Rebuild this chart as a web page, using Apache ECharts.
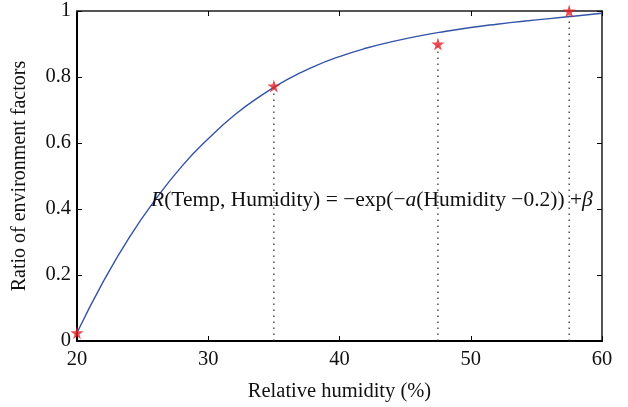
<!DOCTYPE html>
<html>
<head>
<meta charset="utf-8">
<style>html,body{margin:0;padding:0;background:#fff}#c{width:628px;height:407px}</style>
<script src="https://cdn.jsdelivr.net/npm/echarts@6/dist/echarts.min.js"></script>
</head>
<body>
<div id="c"></div>
<script>
// Fitted curve
var curveX = [20,22,24,26,28,30,32,34,36,38,40,42,44,46,48,50,52,54,56,58,60];
var curveY = [0.025,0.18,0.315,0.43,0.53,0.613,0.685,0.743,0.792,0.831,0.862,0.887,0.907,0.924,0.938,0.95,0.96,0.969,0.977,0.985,0.993];
// Measured points (red stars)
var pointX = [20,35,47.5,57.5];
var pointY = [0.025,0.773,0.90,1.0];
// Points with dotted drop lines
var dropIdx = [1,2,3];
var xTicks = [20,30,40,50,60];
var yTicks = [0,0.2,0.4,0.6,0.8,1];

var FONT = '"Liberation Serif","DejaVu Serif",serif';
var starPath = 'path://M50,0 L61,35 L98,35 L68,57 L79,91 L50,70 L21,91 L32,57 L2,35 L39,35 Z';

var series = [{
  type:'line', xAxisIndex:0, yAxisIndex:0, smooth:true, showSymbol:false,
  lineStyle:{color:'#3353a8', width:1.4},
  data: curveX.map(function(x,i){return [x,curveY[i]];}),
  z:3
}];
dropIdx.forEach(function(i){
  series.push({
    type:'line', xAxisIndex:0, yAxisIndex:0, showSymbol:false, silent:true,
    lineStyle:{color:'#222', width:1.2, type:[1.5,4.5]},
    data:[[pointX[i],0],[pointX[i],pointY[i]]], z:2
  });
});
series.push({
  type:'scatter', xAxisIndex:0, yAxisIndex:0, symbol:starPath, symbolSize:13, clip:false,
  itemStyle:{color:'#e41f26'},
  data: pointX.map(function(x,i){return [x,pointY[i]];}), z:5
});

var chart = echarts.init(document.getElementById('c'), null, {renderer:'canvas'});
chart.setOption({
  animation:false,
  backgroundColor:'#fff',
  grid:{left:77, right:26, top:11, bottom:65},
  xAxis:[{
    type:'value', min:20, max:60, interval:10, position:'bottom',
    name:'Relative humidity (%)', nameLocation:'middle', nameGap:40,
    nameTextStyle:{fontFamily:FONT, fontSize:20.5, color:'#111'},
    axisLine:{show:true, onZero:false, lineStyle:{color:'#000', width:2}},
    axisTick:{show:true, inside:true, length:5, lineStyle:{color:'#000', width:1}},
    axisLabel:{fontFamily:FONT, fontSize:20.5, color:'#111', margin:8},
    splitLine:{show:false}
  },{
    type:'value', min:20, max:60, interval:10, position:'top',
    axisLine:{show:true, onZero:false, lineStyle:{color:'#555', width:2}},
    axisTick:{show:true, inside:true, length:5, lineStyle:{color:'#000', width:1}},
    axisLabel:{show:false}, splitLine:{show:false}
  }],
  yAxis:[{
    type:'value', min:0, max:1, interval:0.2, position:'left',
    name:'Ratio of environment factors', nameLocation:'middle', nameGap:47,
    nameTextStyle:{fontFamily:FONT, fontSize:20, color:'#111'},
    axisLine:{show:true, onZero:false, lineStyle:{color:'#000', width:2}},
    axisTick:{show:true, inside:true, length:5, lineStyle:{color:'#000', width:1}},
    axisLabel:{fontFamily:FONT, fontSize:20.5, color:'#111', margin:6,
      formatter:function(v){return String(parseFloat(v.toFixed(1)));}},
    splitLine:{show:false}
  },{
    type:'value', min:0, max:1, interval:0.2, position:'right',
    axisLine:{show:true, onZero:false, lineStyle:{color:'#555', width:2}},
    axisTick:{show:true, inside:true, length:5, lineStyle:{color:'#000', width:1}},
    axisLabel:{show:false}, splitLine:{show:false}
  }],
  graphic:[{
    type:'text', left:151, top:189, z:10,
    style:{
      text:'{i|R}(Temp, Humidity) = \u2212exp(\u2212{i|a}(Humidity \u22120.2)) +{i|\u03b2}',
      font:'21.5px ' + FONT, fill:'#111',
      rich:{i:{fontStyle:'italic', fontFamily:FONT, fontSize:21.5, fill:'#111'}}
    }
  }],
  series:series
});
</script>
</body>
</html>
